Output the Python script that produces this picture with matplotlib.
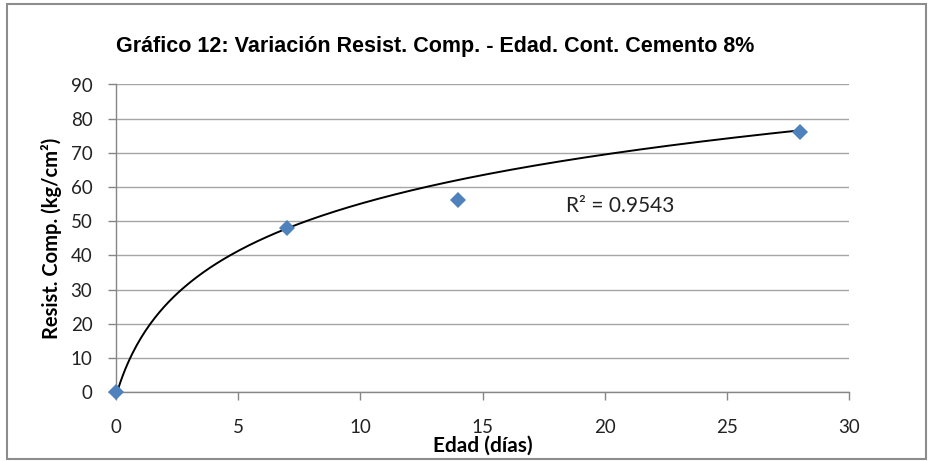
import matplotlib
matplotlib.use("Agg")
import matplotlib.pyplot as plt
from matplotlib.patches import Rectangle
import numpy as np

# measured compressive strength vs age
edad = [0, 7, 14, 28]
resistencia = [0, 48.0, 56.1, 76.1]

# trendline (age, value)
trend_x = [0, 0.655, 1.52, 2.62, 4.52, 5.75, 7.65, 12.96, 19.8, 28]
trend_y = [0, 10, 20, 30, 40, 44.4, 50, 60, 70, 76]

x_ticks = [0, 5, 10, 15, 20, 25, 30]
y_ticks = [0, 10, 20, 30, 40, 50, 60, 70, 80, 90]
r2_label = "R² = 0.9543"

title = "Gráfico 12: Variación Resist. Comp. - Edad. Cont. Cemento 8%"
xlabel = "Edad (días)"
ylabel = "Resist. Comp. (kg/cm²)"

fig = plt.figure(figsize=(9.34, 4.61), dpi=100)
fig.patch.set_facecolor("white")
fig.patches.append(Rectangle((7 / 934, 2 / 461), 919 / 934, 455 / 461,
                             transform=fig.transFigure, fill=False,
                             edgecolor="#8c8c8c", linewidth=1.5))

ax = fig.add_axes([116 / 934, 1 - 392.3 / 461, 733 / 934, 307.8 / 461])

grid_c = "#a6a6a6"
axis_c = "#868686"
ax.set_xlim(0, 30)
ax.set_ylim(0, 90)
ax.set_xticks(x_ticks)
ax.set_yticks(y_ticks)
ax.grid(axis="y", color=grid_c, linewidth=1.0)
ax.set_axisbelow(True)
for side in ("top", "right"):
    ax.spines[side].set_visible(False)
for side in ("left", "bottom"):
    ax.spines[side].set_color(axis_c)
    ax.spines[side].set_linewidth(1.0)
ax.tick_params(axis="both", direction="out", length=6, width=1.0,
               color=axis_c, labelsize=13.5, labelcolor="#222222")
ax.tick_params(axis="x", pad=13)
ax.tick_params(axis="y", pad=11)
for lab in ax.get_xticklabels() + ax.get_yticklabels():
    lab.set_family("Lato")

# smooth trendline: least squares in ln(1 + age) through the read points
coef = np.polyfit(np.log1p(trend_x), trend_y, 2)
xx = np.linspace(0, max(trend_x), 300)
ax.plot(xx, np.polyval(coef, np.log1p(xx)), color="black", linewidth=1.4,
        zorder=3, clip_on=False)

ax.plot(edad, resistencia, linestyle="none", marker="D", markersize=8,
        color="#4f81bd", markeredgewidth=0, zorder=4, clip_on=False)

ax.text(18.42, 54.5, r2_label, family="Lato", fontsize=15, va="center",
        ha="left", color="#222222")

ax.set_xlabel(xlabel, family="Lato", fontweight="bold", fontsize=15)
ax.xaxis.set_label_coords(0.5, -0.142)
ax.set_ylabel(ylabel, family="Lato", fontweight="bold", fontsize=14.5,
              labelpad=6)

fig.text(435 / 934, 1 - 52 / 461, title, family="Liberation Sans",
         fontweight="bold", fontsize=15.5, ha="center", va="baseline")

fig.savefig("out.png", dpi=100)
